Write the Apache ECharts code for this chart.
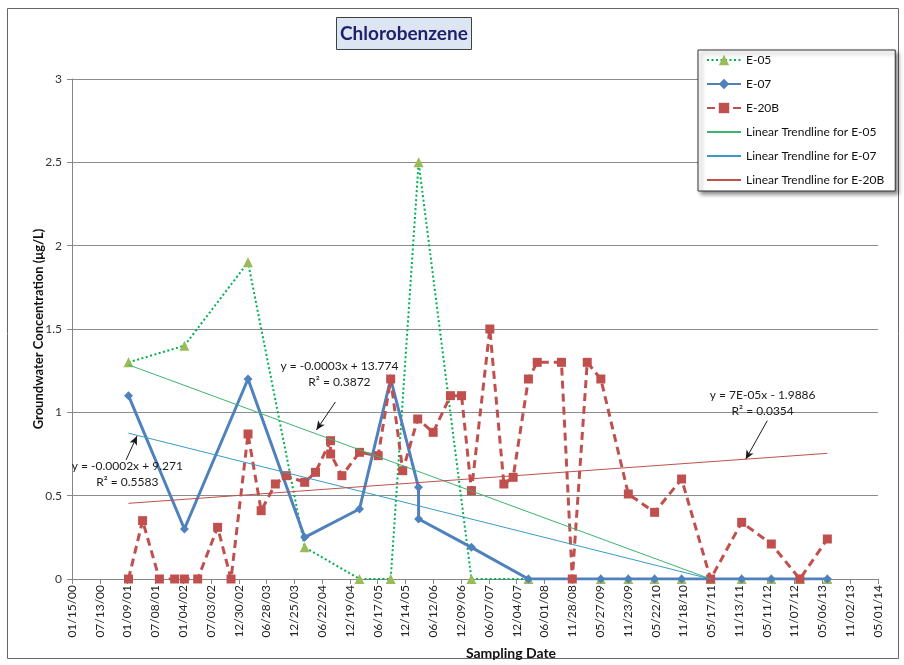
<!DOCTYPE html>
<html>
<head>
<meta charset="utf-8">
<script src="https://cdn.jsdelivr.net/npm/echarts@6/dist/echarts.min.js"></script>
<style>html,body{margin:0;padding:0;background:#fff}#c{width:904px;height:665px}</style>
</head>
<body>
<div id="c"></div>
<script>
// ---- data (dates MM/DD/YY, concentrations in µg/L) ----
const e05Dates = ['01/15/01','01/12/02','02/28/03','03/01/04','02/19/05','09/09/05','03/09/06','02/14/07','02/18/08','06/01/09','11/26/09','05/15/10','11/06/10','05/13/11','11/30/11','06/09/12','12/11/12','06/07/13'];
const e05Values = [1.3,1.4,1.9,0.19,0,0,2.5,0,0,0,0,0,0,0,0,0,0,0];

const e07Dates = ['01/15/01','01/12/02','02/28/03','03/01/04','02/19/05','09/09/05','03/08/06','03/09/06','02/14/07','02/18/08','11/28/08','06/01/09','11/26/09','05/15/10','11/06/10','05/13/11','11/30/11','06/09/12','12/11/12','06/07/13'];
const e07Values = [1.1,0.3,1.2,0.25,0.42,1.2,0.55,0.36,0.19,0,0,0,0,0,0,0,0,0,0,0];

const e20bDates = ['01/15/01','04/16/01','08/03/01','11/10/01','01/12/02','04/08/02','08/15/02','11/10/02','02/28/03','05/24/03','08/24/03','11/03/03','03/01/04','05/10/04','08/15/04','08/16/04','10/28/04','02/19/05','06/20/05','09/09/05','11/26/05','03/03/06','06/11/06','10/01/06','12/12/06','02/14/07','06/13/07','09/12/07','11/11/07','02/18/08','04/15/08','09/19/08','11/28/08','03/05/09','06/01/09','11/26/09','05/15/10','11/06/10','05/13/11','11/30/11','06/09/12','12/11/12','06/07/13'];
const e20bValues = [0,0.35,0,0,0,0,0.31,0,0.87,0.41,0.57,0.62,0.58,0.64,0.83,0.75,0.62,0.76,0.74,1.2,0.65,0.96,0.88,1.1,1.1,0.53,1.5,0.57,0.61,1.2,1.3,1.3,0,1.3,1.2,0.51,0.4,0.6,0,0.34,0.21,0,0.24];

// linear trendlines (end points)
const trendE05Dates = ['01/15/01','05/13/11'];
const trendE05Values = [1.285,0];
const trendE07Dates = ['01/15/01','05/13/11'];
const trendE07Values = [0.875,0];
const trendE20bDates = ['01/15/01','06/07/13'];
const trendE20bValues = [0.454,0.754];

const seriesNames = ['E-05','E-07','E-20B','Linear Trendline for E-05','Linear Trendline for E-07','Linear Trendline for E-20B'];

// trendline equation labels
const eqE07 = {text:'y = -0.0002x + 9.271\nR² = 0.5583', at:['01/07/01',0.627], from:['12/30/00',0.714], to:['03/11/01',0.858]};
const eqE05 = {text:'y = -0.0003x + 13.774\nR² = 0.3872', at:['10/12/04',1.23], from:['09/16/04',1.062], to:['05/16/04',0.894]};
const eqE20b = {text:'y = 7E-05x - 1.9886\nR² = 0.0354', at:['04/14/12',1.054], from:['05/14/12',0.95], to:['12/26/11',0.718]};

// x axis: Excel date serials, ticks every 180 days from 01/15/00 to 05/01/14
const xMinDate = '01/15/00', xMaxDate = '05/01/14', xStepDays = 180;
const yMin = 0, yMax = 3, yStep = 0.5;

// ---- helpers ----
const EPOCH = Date.UTC(1899, 11, 30);
function serial(s){ const [m,d,y] = s.split('/').map(Number); return Math.round((Date.UTC(2000+y, m-1, d) - EPOCH)/86400000); }
function fmt(v){ const dt = new Date(EPOCH + v*86400000); const p = n => String(n).padStart(2,'0'); return p(dt.getUTCMonth()+1)+'/'+p(dt.getUTCDate())+'/'+p(dt.getUTCFullYear()%100); }
const zip = (ds, vs) => ds.map((d,i) => [serial(d), vs[i]]);
const pt = a => [serial(a[0]), a[1]];
const FONT = 'Lato';

function annot(eq){
  return {
    markPoint: {
      silent: true, animation: false,
      symbol: 'rect', symbolSize: 1, itemStyle: {color: 'rgba(0,0,0,0)'},
      label: {show: true, position: 'inside', formatter: eq.text, color: '#1a1a1a', fontSize: 12, fontFamily: FONT, lineHeight: 16, align: 'center'},
      data: [{coord: pt(eq.at)}]
    },
    markLine: {
      silent: true, animation: false,
      symbol: ['none','arrow'], symbolSize: [6, 9],
      lineStyle: {color: '#1a1a1a', width: 1, type: 'solid'},
      label: {show: false},
      data: [[{coord: pt(eq.from)}, {coord: pt(eq.to)}]]
    }
  };
}

const chart = echarts.init(document.getElementById('c'), null, {renderer: 'canvas'});

const hidden = {color: 'rgba(0,0,0,0)', opacity: 0, borderWidth: 0};
const option = {
  backgroundColor: '#ffffff',
  animation: false,
  textStyle: {fontFamily: FONT},
  title: {
    text: 'Chlorobenzene',
    left: 336, top: 17,
    padding: [7, 4, 7, 4],
    backgroundColor: '#DCE6F2',
    borderColor: '#404040', borderWidth: 1,
    textStyle: {fontFamily: FONT, fontSize: 19, fontWeight: 'bold', color: '#1F1F6B'}
  },
  graphic: [{
    type: 'rect', silent: true, z: -10,
    shape: {x: 7.5, y: 8.5, width: 891, height: 650},
    style: {fill: 'none', stroke: '#666666', lineWidth: 1}
  }],
  legend: {
    orient: 'vertical', left: 698, top: 50,
    data: [
      {name: seriesNames[0]}, {name: seriesNames[1]}, {name: seriesNames[2]},
      {name: seriesNames[3], itemStyle: hidden},
      {name: seriesNames[4], itemStyle: hidden},
      {name: seriesNames[5], itemStyle: hidden}
    ],
    itemWidth: 34, itemHeight: 13, itemGap: 12,
    padding: [4, 11, 5, 8],
    backgroundColor: '#ffffff',
    borderColor: '#333333', borderWidth: 1,
    shadowColor: 'rgba(0,0,0,0.45)', shadowBlur: 4, shadowOffsetX: 3, shadowOffsetY: 3,
    textStyle: {fontFamily: FONT, fontSize: 12, color: '#111'},
    selectedMode: false
  },
  grid: {left: 72, top: 79, right: 26, bottom: 86},
  xAxis: {
    type: 'value',
    min: serial(xMinDate), max: serial(xMaxDate), interval: xStepDays,
    name: 'Sampling Date', nameLocation: 'middle', nameGap: 67,
    nameTextStyle: {fontFamily: FONT, fontSize: 14, fontWeight: 'bold', color: '#111', padding: [0, 0, 0, 72]},
    axisLine: {show: true, lineStyle: {color: '#868686'}},
    axisTick: {show: true, length: 5, lineStyle: {color: '#868686'}},
    splitLine: {show: false},
    axisLabel: {rotate: 90, formatter: fmt, fontFamily: FONT, fontSize: 12, color: '#222', margin: 6, showMinLabel: true, showMaxLabel: true}
  },
  yAxis: {
    type: 'value', min: yMin, max: yMax, interval: yStep,
    name: 'Groundwater Concentration (μg/L)', nameLocation: 'middle', nameGap: 27,
    nameMoveOverlap: false,
    nameTextStyle: {fontFamily: FONT, fontSize: 13, fontWeight: 'bold', color: '#111'},
    axisLine: {show: true, lineStyle: {color: '#868686'}},
    axisTick: {show: true, length: 5, lineStyle: {color: '#868686'}},
    splitLine: {show: true, lineStyle: {color: '#8c8c8c', width: 1}},
    axisLabel: {fontFamily: FONT, fontSize: 12, color: '#333', margin: 10}
  },
  series: [
    {
      name: seriesNames[0], type: 'line', data: zip(e05Dates, e05Values), z: 2,
      symbol: 'triangle', symbolSize: 10,
      itemStyle: {color: '#9BBB59'},
      lineStyle: {color: '#00B050', width: 2, type: [2, 2.5]}
    },
    {
      name: seriesNames[1], type: 'line', data: zip(e07Dates, e07Values), z: 3,
      symbol: 'diamond', symbolSize: 9,
      itemStyle: {color: '#4F81BD'},
      lineStyle: {color: '#4F81BD', width: 3}
    },
    {
      name: seriesNames[2], type: 'line', data: zip(e20bDates, e20bValues), z: 4,
      symbol: 'rect', symbolSize: 9,
      itemStyle: {color: '#C0504D'},
      lineStyle: {color: '#C0504D', width: 3, type: [8, 5]}
    },
    Object.assign({
      name: seriesNames[3], type: 'line', data: zip(trendE05Dates, trendE05Values), z: 5,
      symbol: 'none', showSymbol: false,
      itemStyle: {color: '#3CB371'},
      lineStyle: {color: '#3CB371', width: 1}
    }, annot(eqE05)),
    Object.assign({
      name: seriesNames[4], type: 'line', data: zip(trendE07Dates, trendE07Values), z: 5,
      symbol: 'none', showSymbol: false,
      itemStyle: {color: '#3A9AC8'},
      lineStyle: {color: '#3A9AC8', width: 1}
    }, annot(eqE07)),
    Object.assign({
      name: seriesNames[5], type: 'line', data: zip(trendE20bDates, trendE20bValues), z: 5,
      symbol: 'none', showSymbol: false,
      itemStyle: {color: '#C0504D'},
      lineStyle: {color: '#C0504D', width: 1}
    }, annot(eqE20b))
  ]
};
chart.setOption(option);
</script>
</body>
</html>
